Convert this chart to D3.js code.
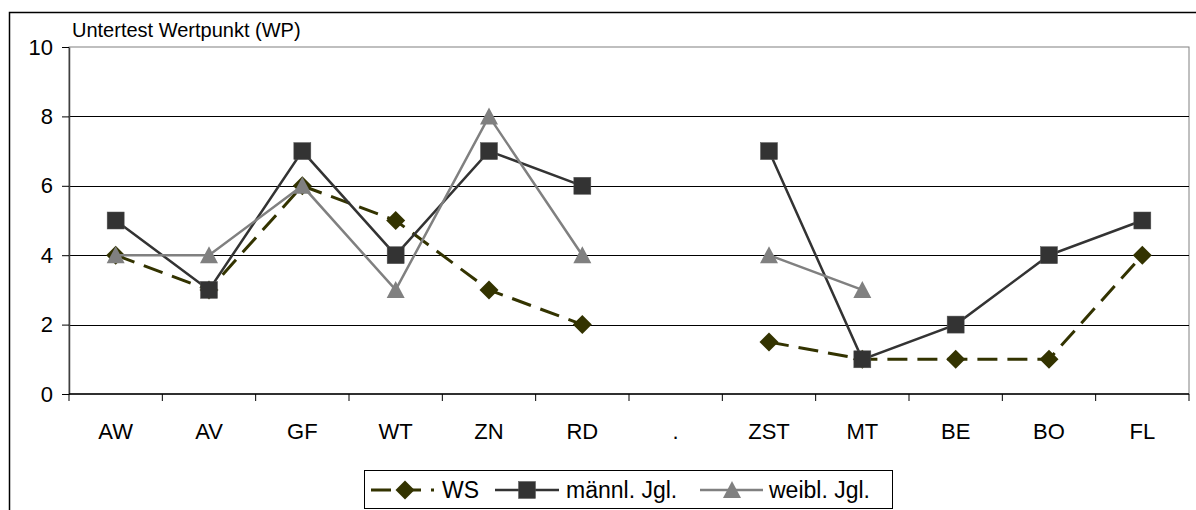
<!DOCTYPE html>
<html>
<head>
<meta charset="utf-8">
<script src="https://cdn.jsdelivr.net/npm/d3@7"></script>
<style>
  body { margin: 0; background: #fff; }
  svg { font-family: "Liberation Sans", Arial, sans-serif; }
</style>
</head>
<body>
<script>
// data
const categories = ["AW", "AV", "GF", "WT", "ZN", "RD", ".", "ZST", "MT", "BE", "BO", "FL"];
const ws = [4, 3, 6, 5, 3, 2, null, 1.5, 1, 1, 1, 4];
const maennl = [5, 3, 7, 4, 7, 6, null, 7, 1, 2, 4, 5];
const weibl = [4, 4, 6, 3, 8, 4, null, 4, 3, null, null, null];
const yTicks = [0, 2, 4, 6, 8, 10];

const series = [
  { name: "WS", values: ws, color: "#333300", dash: "20,10", width: 3, marker: "diamond" },
  { name: "männl. Jgl.", values: maennl, color: "#333333", dash: null, width: 2.5, marker: "square" },
  { name: "weibl. Jgl.", values: weibl, color: "#808080", dash: null, width: 2.5, marker: "triangle" }
];

const W = 1196, H = 510;
const plot = { left: 69, right: 1189, top: 47, bottom: 394 };

const svg = d3.select("body").append("svg")
  .attr("width", W)
  .attr("height", H);

// outer chart frame (runs off the right/bottom edge like the reference)
svg.append("rect")
  .attr("x", 9.5).attr("y", 12.5)
  .attr("width", W + 20).attr("height", H + 20)
  .attr("fill", "none").attr("stroke", "#000").attr("stroke-width", 1.5);

const x = d3.scaleBand()
  .domain(categories)
  .range([plot.left, plot.right])
  .padding(0);

const y = d3.scaleLinear()
  .domain([0, 10])
  .range([plot.bottom, plot.top]);

// plot area border
svg.append("rect")
  .attr("x", plot.left).attr("y", plot.top)
  .attr("width", plot.right - plot.left).attr("height", plot.bottom - plot.top)
  .attr("fill", "none").attr("stroke", "#808080").attr("stroke-width", 1);

// gridlines
svg.append("g")
  .selectAll("line")
  .data(yTicks.filter(d => d > 0 && d < 10))
  .join("line")
  .attr("x1", plot.left).attr("x2", plot.right)
  .attr("y1", d => Math.round(y(d)) + 0.5).attr("y2", d => Math.round(y(d)) + 0.5)
  .attr("stroke", "#000").attr("stroke-width", 1);

// Y axis
const yAxis = svg.append("g")
  .attr("transform", `translate(${plot.left},0)`)
  .call(d3.axisLeft(y).tickValues(yTicks).tickSize(7).tickPadding(9).tickSizeOuter(0));
yAxis.select(".domain").attr("stroke", "#404040").attr("stroke-width", 1.5);
yAxis.selectAll(".tick line").attr("stroke", "#000");
yAxis.selectAll("text").attr("font-size", 22).attr("fill", "#000")
  .attr("font-family", "Liberation Sans, Arial, sans-serif");

// X axis: ticks at the category boundaries
const xAxis = svg.append("g")
  .attr("transform", `translate(0,${plot.bottom})`);
xAxis.append("line")
  .attr("x1", plot.left).attr("x2", plot.right)
  .attr("stroke", "#000").attr("stroke-width", 1.5);
xAxis.selectAll(".xt")
  .data(categories.concat(["end"]))
  .join("line")
  .attr("class", "xt")
  .attr("x1", (d, i) => i < categories.length ? x(d) : plot.right)
  .attr("x2", (d, i) => i < categories.length ? x(d) : plot.right)
  .attr("y1", 0).attr("y2", 7)
  .attr("stroke", "#000");
xAxis.selectAll(".xl")
  .data(categories)
  .join("text")
  .attr("class", "xl")
  .attr("x", d => x(d) + x.bandwidth() / 2)
  .attr("y", 45)
  .attr("text-anchor", "middle")
  .attr("font-size", 22)
  .text(d => d);

// axis title
svg.append("text")
  .attr("x", 72).attr("y", 37)
  .attr("font-size", 20)
  .text("Untertest Wertpunkt (WP)");

// markers
function marker(sel, kind, color) {
  if (kind === "diamond") {
    sel.append("path").attr("d", "M0,-9.5L9.5,0L0,9.5L-9.5,0Z").attr("fill", color);
  } else if (kind === "square") {
    sel.append("rect").attr("x", -8.5).attr("y", -8.5).attr("width", 17).attr("height", 17)
      .attr("fill", color).attr("stroke", "#555").attr("stroke-width", 0.5);
  } else {
    sel.append("path").attr("d", "M0,-9L9,8L-9,8Z").attr("fill", color);
  }
}

const cx = i => x(categories[i]) + x.bandwidth() / 2;

series.forEach(s => {
  const line = d3.line()
    .defined(d => d != null)
    .x((d, i) => cx(i))
    .y(d => y(d));
  svg.append("path")
    .datum(s.values)
    .attr("d", line)
    .attr("fill", "none")
    .attr("stroke", s.color)
    .attr("stroke-width", s.width)
    .attr("stroke-dasharray", s.dash);
  s.values.forEach((v, i) => {
    if (v == null) return;
    const g = svg.append("g").attr("transform", `translate(${cx(i)},${y(v)})`);
    marker(g, s.marker, s.color);
  });
});

// legend
const lg = svg.append("g");
lg.append("rect")
  .attr("x", 364.5).attr("y", 470.5).attr("width", 528).attr("height", 38)
  .attr("fill", "#fff").attr("stroke", "#000");
const legendItems = [
  { s: series[0], x1: 371, x2: 434, mx: 405, tx: 442 },
  { s: series[1], x1: 495, x2: 559, mx: 527, tx: 566 },
  { s: series[2], x1: 700, x2: 763, mx: 732, tx: 769 }
];
legendItems.forEach(it => {
  lg.append("line")
    .attr("x1", it.x1).attr("x2", it.x2).attr("y1", 490).attr("y2", 490)
    .attr("stroke", it.s.color).attr("stroke-width", it.s.width)
    .attr("stroke-dasharray", it.s.dash);
  const g = lg.append("g").attr("transform", `translate(${it.mx},490)`);
  marker(g, it.s.marker, it.s.color);
  lg.append("text")
    .attr("x", it.tx).attr("y", 498)
    .attr("font-size", 23)
    .text(it.s.name);
});
</script>
</body>
</html>
